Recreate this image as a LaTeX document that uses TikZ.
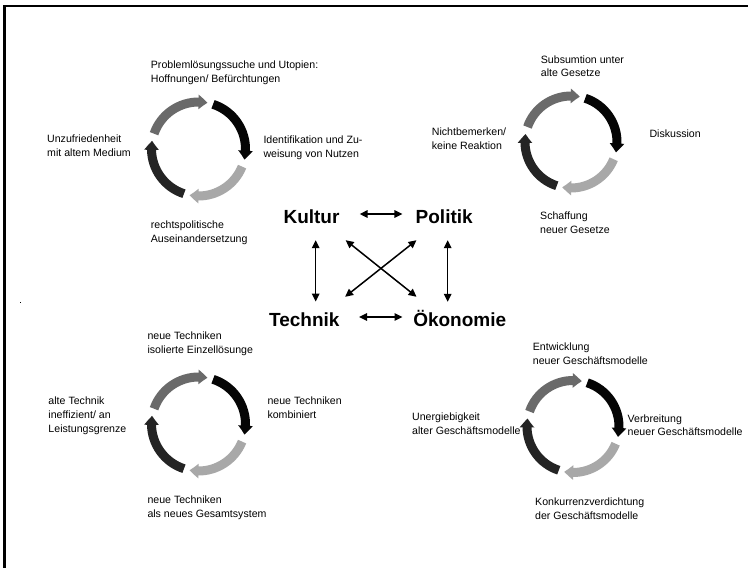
\documentclass[tikz,border=0pt]{standalone}
\usepackage{fontspec}
\setmainfont{Liberation Sans}
\usetikzlibrary{arrows.meta,bending}
\definecolor{cgrey}{HTML}{6A6A6A}
\definecolor{clight}{HTML}{A8A8A8}
\definecolor{cdark}{HTML}{242424}
\definecolor{cblack}{HTML}{050505}
\newcommand\cyclering[2]{%
  \draw[cyc,cgrey]  (#1) ++(-161:#2) arc[start angle=-161,end angle=-79,radius=#2];
  \draw[cyc,cblack] (#1) ++(-72:#2)  arc[start angle=-72,end angle=13,radius=#2];
  \draw[cyc,clight] (#1) ++(22:#2)   arc[start angle=22,end angle=101,radius=#2];
  \draw[cyc,cdark]  (#1) ++(108:#2)  arc[start angle=108,end angle=190,radius=#2];}
\begin{document}
\begin{tikzpicture}[x=1pt,y=-1pt,
  lbl/.style={anchor=north west, inner sep=0pt, align=left, font=\fontsize{10.6}{13.6}\selectfont},
  big/.style={inner sep=0pt, font=\fontsize{19}{22}\selectfont\bfseries, text height=19pt, text depth=0pt},
  biarrow/.style={line width=1.5pt, {Triangle[length=8pt,width=7.5pt]}-{Triangle[length=8pt,width=7.5pt]}},
  cyc/.style={line width=9pt, -{Triangle[length=9pt,width=14pt,bend]}}]
\useasboundingbox (0,0) rectangle (748,568);
\fill[white] (0,0) rectangle (748,568);
% frame (continues beyond the right and bottom edges)
\draw[line width=2.5pt] (4.5,568) -- (4.5,6) -- (748,6);
\fill (19.5,301.5) rectangle (21,303);

% central terms
\node[big] (K) at (311.5,214) {Kultur};
\node[big] (P) at (444.2,214) {Politik};
\node[big] (T) at (304.3,317) {Technik};
\node[big] (O) at (459.7,317) {Ökonomie};

\draw[biarrow] ([shift={(20,0)}]K.east) -- ([shift={(-13,0)}]P.west);
\draw[biarrow] ([shift={(19.4,0)}]T.east) -- ([shift={(-10.5,0)}]O.west);
\draw[biarrow] ([shift={(4.2,16.5)}]K.south) -- ([shift={(11.4,-5.8)}]T.north);
\draw[biarrow] ([shift={(3.5,16.5)}]P.south) -- ([shift={(-12,-5.5)}]O.north);
\draw[biarrow] ([shift={(6,16.5)}]K.south east) -- ([shift={(3.5,-10.5)}]O.north west);
\draw[biarrow] ([shift={(1,16.5)}]P.south west) -- ([shift={(5.4,-10.5)}]T.north east);

% cycles
\coordinate (c1) at (198.5,149);
\coordinate (c2) at (571,142);
\coordinate (c3) at (198.5,424);
\coordinate (c4) at (573,426.5);
\cyclering{c1}{47}
\cyclering{c2}{46}
\cyclering{c3}{47}
\cyclering{c4}{46}

% labels, Kultur cycle
\node[lbl] (k1) at (150.7,61) {Problemlösungssuche und Utopien:\\Hoffnungen/ Befürchtungen};
\node[lbl] (k2) at (263.3,136) {Identifikation und Zu-\\weisung von Nutzen};
\node[lbl] (k3) at (150.7,221) {rechtspolitische\\Auseinandersetzung};
\node[lbl] (k4) at (47,135) {Unzufriedenheit\\mit altem Medium};

% labels, Politik cycle
\node[lbl] (p1) at (540.7,55.3) {Subsumtion unter\\alte Gesetze};
\node[lbl] (p2) at (649.3,130) {Diskussion};
\node[lbl] (p3) at (540,212) {Schaffung\\neuer Gesetze};
\node[lbl] (p4) at (431.7,127.7) {Nichtbemerken/\\keine Reaktion};

% labels, Technik cycle
\node[lbl] (t1) at (147.3,332) {neue Techniken\\isolierte Einzellösunge};
\node[lbl] (t2) at (267.3,397) {neue Techniken\\kombiniert};
\node[lbl] (t3) at (147.3,496) {neue Techniken\\als neues Gesamtsystem};
\node[lbl] (t4) at (48.3,397) {alte Technik\\ineffizient/ an\\Leistungsgrenze};

% labels, Oekonomie cycle
\node[lbl] (o1) at (532.7,342.7) {Entwicklung\\neuer Geschäftsmodelle};
\node[lbl] (o2) at (627.5,414.3) {Verbreitung\\neuer Geschäftsmodelle};
\node[lbl] (o3) at (535,497.7) {Konkurrenzverdichtung\\der Geschäftsmodelle};
\node[lbl] (o4) at (412,412.7) {Unergiebigkeit\\alter Geschäftsmodelle};
\end{tikzpicture}
\end{document}
